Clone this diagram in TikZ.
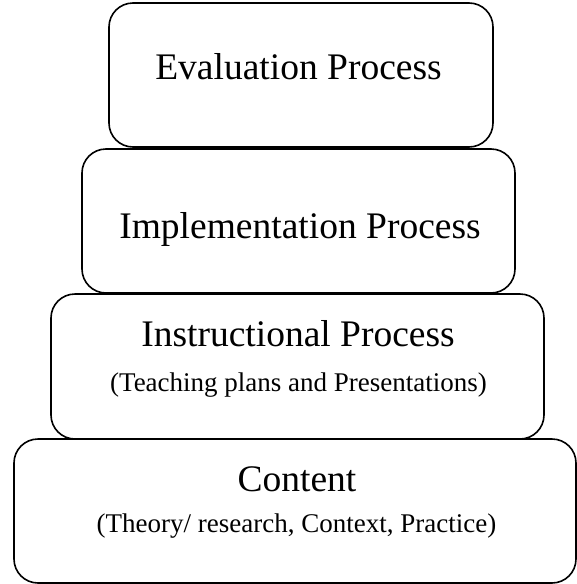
\documentclass[tikz,border=0pt]{standalone}
\usepackage{fontspec}
\setmainfont{Liberation Serif}
\begin{document}
\begin{tikzpicture}[x=1pt,y=-1pt,
  layer/.style={draw=black, line width=1.6pt, rounded corners=24pt,
    inner sep=0pt, outer sep=0pt},
  title/.style={anchor=base, inner sep=0pt, font=\fontsize{37.5}{45}\selectfont},
  subtitle/.style={anchor=base, inner sep=0pt, font=\fontsize{27}{32}\selectfont}]
  \useasboundingbox (0,0) rectangle (577,584);

  % stacked layers, narrowest on top
  \node[layer, minimum width=384pt, minimum height=144pt] (eval)  at (301,75) {};
  \node[layer, minimum width=433pt, minimum height=144pt] (impl)  at (298.5,221) {};
  \node[layer, minimum width=493pt, minimum height=145pt] (instr) at (297.5,366.5) {};
  \node[layer, minimum width=562pt, minimum height=144pt] (cont)  at (295,511) {};

  % labels
  \node[title]    (evalT)  at (298.5,79)  {Evaluation Process};
  \node[title]    (implT)  at (300,238)   {Implementation Process};
  \node[title]    (instrT) at (298,346)   {Instructional Process};
  \node[subtitle] (instrS) at (298.5,391) {(Teaching plans and Presentations)};
  \node[title]    (contT)  at (297,491)   {Content};
  \node[subtitle] (contS)  at (296.5,532) {(Theory/ research, Context, Practice)};
\end{tikzpicture}
\end{document}
